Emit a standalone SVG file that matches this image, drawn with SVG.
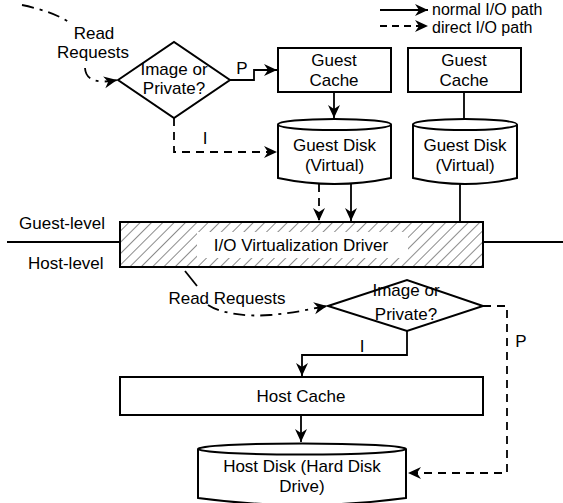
<svg xmlns="http://www.w3.org/2000/svg" width="563" height="503" viewBox="0 0 563 503">
<style>
text{font-family:"Liberation Sans",Arial,sans-serif;font-size:17px;fill:#000}
.c{text-anchor:middle}
.lg{font-size:16px}
.box{fill:#fff;stroke:#000;stroke-width:2}
.ln{fill:none;stroke:#000;stroke-width:1.8}
.dash{stroke-dasharray:8,6}
.dd{stroke-dasharray:12,6,3,6}
.arr{marker-end:url(#ah)}
</style>
<defs>
<marker id="ah" markerUnits="userSpaceOnUse" markerWidth="16" markerHeight="14" viewBox="-14 -7 16 14" refX="0" refY="0" orient="auto">
<path d="M0,0 L-13,-6 L-9,0 L-13,6 Z" fill="#000"/>
</marker>
<pattern id="hatch" patternUnits="userSpaceOnUse" width="8" height="8" patternTransform="rotate(45)">
<line x1="0" y1="0" x2="0" y2="8" stroke="#000" stroke-width="0.9"/>
</pattern>
</defs>

<g id="legend">
<line class="ln arr" x1="380" y1="10" x2="428" y2="10"/>
<text class="lg" x="432" y="15">normal I/O path</text>
<line class="ln arr" x1="380" y1="26" x2="428" y2="26" style="stroke-dasharray:7,5"/>
<text class="lg" x="432" y="33">direct I/O path</text>
</g>

<g id="levels">
<line class="ln" x1="7" y1="242" x2="120" y2="242"/>
<line class="ln" x1="483" y1="242" x2="563" y2="242"/>
<text x="19" y="229">Guest-level</text>
<text x="28" y="269">Host-level</text>
</g>

<g id="connectors">
<path class="ln dd" d="M22,5 Q55,12 70,23"/>
<path class="ln dd arr" d="M85,68 Q86,86 117,80"/>
<polyline class="ln arr" points="230,80 254,80 254,70 277,70"/>
<polyline class="ln dash arr" points="174,118 174,152 277,152"/>
<line class="ln arr" x1="334" y1="92" x2="334" y2="118"/>
<line class="ln" x1="464" y1="92" x2="464" y2="120"/>
<line class="ln dash arr" x1="319" y1="184" x2="319" y2="221"/>
<line class="ln arr" x1="351" y1="184" x2="351" y2="221"/>
<line class="ln" x1="460" y1="184" x2="460" y2="222"/>
<line class="ln" x1="185" y1="271" x2="197" y2="286"/>
<path class="ln dd arr" d="M208,305 C220,313 245,317 270,315 S310,309 327,306"/>
<polyline class="ln arr" points="407,331 407,355 302,355 302,376"/>
<polyline class="ln dash arr" points="483,306 507,306 507,473 408,473"/>
<line class="ln arr" x1="301" y1="415" x2="301" y2="442"/>
<text x="242" y="74" class="c">P</text>
<text x="205" y="144" class="c">I</text>
<text x="362" y="352" class="c">I</text>
<text x="521" y="347" class="c">P</text>
<text x="94" y="39" class="c">Read</text>
<text x="93" y="58" class="c">Requests</text>
<text x="227" y="304" class="c">Read Requests</text>
</g>

<g id="decision1">
<polygon class="box" points="118,80 174,42 230,80 174,118"/>
<text x="174" y="75" class="c">Image or</text>
<text x="174" y="94" class="c">Private?</text>
</g>

<g id="guestCache1">
<rect class="box" x="278" y="48" width="113" height="44"/>
<text x="334" y="66" class="c">Guest</text>
<text x="334" y="86" class="c">Cache</text>
</g>

<g id="guestCache2">
<rect class="box" x="408" y="48" width="113" height="44"/>
<text x="464" y="66" class="c">Guest</text>
<text x="464" y="86" class="c">Cache</text>
</g>

<g id="guestDisk1">
<path class="box" d="M278,124.5 L278,178 Q334.5,190 391,178 L391,124.5"/>
<ellipse class="box" cx="334.5" cy="124.5" rx="56.5" ry="5.5"/>
<text x="334.5" y="151" class="c">Guest Disk</text>
<text x="334.5" y="171" class="c">(Virtual)</text>
</g>

<g id="guestDisk2">
<path class="box" d="M413,124.5 L413,178 Q465,190 517,178 L517,124.5"/>
<ellipse class="box" cx="465" cy="124.5" rx="52" ry="5.5"/>
<text x="465" y="151" class="c">Guest Disk</text>
<text x="465" y="171" class="c">(Virtual)</text>
</g>

<g id="ioDriver">
<rect x="120" y="222" width="363" height="45" fill="url(#hatch)" stroke="#000" stroke-width="2"/>
<rect x="197" y="232" width="211" height="26" fill="#fff"/>
<text x="301" y="251" class="c">I/O Virtualization Driver</text>
</g>

<g id="decision2">
<polygon class="box" points="328,306 407,280 483,306 407,331"/>
<text x="406" y="296" class="c">Image or</text>
<text x="406" y="320" class="c">Private?</text>
</g>

<g id="hostCache">
<rect class="box" x="120" y="377" width="363" height="38"/>
<text x="301" y="402" class="c">Host Cache</text>
</g>

<g id="hostDisk">
<path class="box" d="M198,449 L198,498 Q302,512 406,498 L406,449"/>
<ellipse class="box" cx="302" cy="449" rx="104" ry="5.5"/>
<text x="302" y="472" class="c">Host Disk (Hard Disk</text>
<text x="302" y="492" class="c">Drive)</text>
</g>
</svg>
